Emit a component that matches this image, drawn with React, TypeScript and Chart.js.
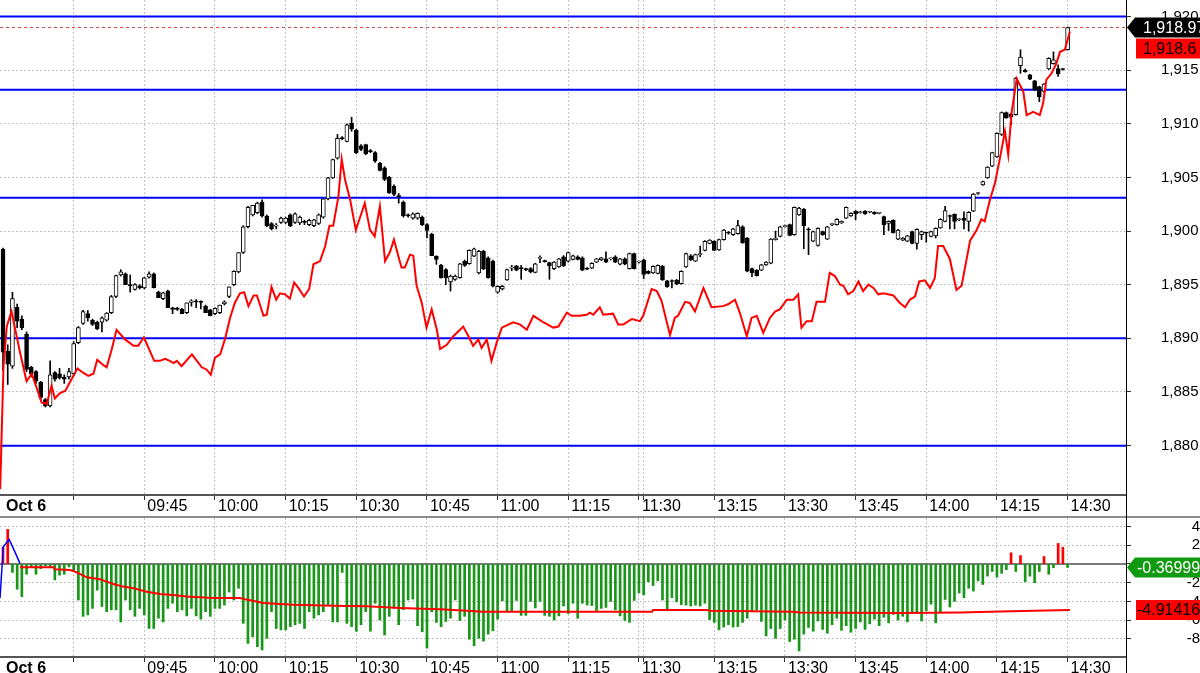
import React, { useEffect, useRef } from 'react';
import { Chart, registerables } from 'chart.js';

Chart.register(...registerables);

const FONT = '"Liberation Sans", Arial, Helvetica, sans-serif';

// ---- time axis: 1-minute bars, index 0 = 09:15, lunch break collapsed (135 = 11:30, 136 = 13:00)
const TICK_POS = [0, 15, 30, 45, 60, 75, 90, 105, 120, 135, 136, 151, 166, 181, 196, 211, 226];
const TICK_LABELS = ['Oct 6', '', '09:45', '10:00', '10:15', '10:30', '10:45', '11:00', '11:15', '11:30', '', '13:15', '13:30', '13:45', '14:00', '14:15', '14:30'];
const X_MIN = -0.64;
const X_MAX = 238.4;

// ---- price panel
const OPEN = [
  1898.3, 1888.8, 1887.4, 1892.9, 1891.8, 1890.4, 1887.3, 1886.9, 1885.9, 1884.3,
  1883.7, 1886.8, 1886.7, 1886.4, 1886.4, 1886.7, 1889.6, 1891.4, 1892.3, 1891.7,
  1891.5, 1891.5, 1891.7, 1892.4, 1893.9, 1895.9, 1896.0, 1895.0, 1894.55, 1894.9,
  1894.7, 1895.7, 1896.0, 1894.3, 1893.7, 1894.4, 1892.85, 1892.8, 1892.7, 1892.4,
  1893.35, 1893.5, 1893.4, 1893.0, 1892.65, 1892.3, 1892.4, 1893.2, 1893.9, 1895.0,
  1896.2, 1898.0, 1900.4, 1901.5, 1901.7, 1902.7, 1901.4, 1900.7, 1900.45, 1900.8,
  1900.8, 1901.5, 1900.8, 1900.75, 1900.85, 1900.6, 1900.5, 1900.7, 1901.3, 1903.0,
  1904.95, 1906.8, 1908.7, 1908.35, 1910.05, 1909.4, 1907.95, 1908.05, 1907.45, 1907.3,
  1906.3, 1905.9, 1905.0, 1904.2, 1903.3, 1902.7, 1901.5, 1901.2, 1901.2, 1901.3,
  1900.6, 1899.7, 1897.65, 1896.8, 1896.4, 1895.25, 1895.5, 1895.65, 1897.2, 1896.95,
  1897.65, 1896.1, 1898.1, 1897.5, 1897.2, 1894.3, 1894.6, 1895.45, 1896.55, 1896.75,
  1896.6, 1896.45, 1896.5, 1896.15, 1897.45, 1897.2, 1897.05, 1896.5, 1896.65, 1897.6,
  1897.2, 1897.35, 1897.6, 1897.5, 1896.5, 1896.55, 1897.1, 1897.3, 1897.4, 1897.4,
  1897.6, 1896.9, 1897.4, 1896.5, 1897.9, 1897.1, 1897.3, 1896.25, 1896.1, 1896.05,
  1896.7, 1895.35, 1895.35, 1895.4, 1895.1, 1896.65, 1897.7, 1897.2, 1897.8, 1898.2,
  1898.85, 1899.05, 1898.25, 1899.2, 1899.85, 1899.65, 1899.75, 1900.4, 1899.35, 1896.5,
  1896.35, 1896.35, 1896.85, 1897.0, 1899.2, 1899.5, 1900.4, 1900.6, 1899.65, 1901.5,
  1902.05, 1900.15, 1899.05, 1898.65, 1899.95, 1899.25, 1900.6, 1900.6, 1900.75, 1901.2,
  1901.4, 1901.85, 1901.7, 1901.85, 1901.75, 1901.75, 1901.65, 1901.35, 1900.7, 1901.0,
  1899.25, 1899.15, 1899.05, 1899.95, 1898.85, 1899.65, 1899.85, 1899.5, 1899.55, 1900.3,
  1900.9, 1901.4, 1901.55, 1901.05, 1901.2, 1900.9, 1901.85, 1903.5, 1904.3, 1904.95,
  1906.05, 1906.9, 1909.0, 1911.05, 1910.9, 1910.85, 1915.4, 1915.0, 1914.55, 1914.0,
  1913.45, 1913.0, 1915.1, 1915.6, 1915.15, 1915.1, 1916.9,
];
const HIGH = [
  1898.4, 1889.4, 1894.3, 1893.2, 1892.1, 1890.6, 1887.4, 1887.0, 1886.0, 1884.4,
  1887.9, 1886.9, 1887.2, 1886.6, 1887.2, 1889.7, 1891.1, 1892.6, 1892.6, 1891.8,
  1891.6, 1892.0, 1892.4, 1894.0, 1895.9, 1896.4, 1896.1, 1895.9, 1895.1, 1895.0,
  1895.7, 1896.2, 1896.1, 1894.4, 1894.3, 1894.5, 1892.9, 1892.9, 1892.8, 1893.3,
  1893.6, 1893.6, 1893.5, 1893.1, 1892.7, 1892.85, 1893.1, 1893.5, 1894.8, 1896.3,
  1898.0, 1900.5, 1902.3, 1902.4, 1902.7, 1902.9, 1901.5, 1900.8, 1900.7, 1901.3,
  1901.3, 1901.6, 1901.7, 1901.4, 1901.0, 1901.1, 1901.1, 1901.6, 1903.0, 1905.0,
  1906.7, 1909.0, 1908.8, 1910.0, 1910.6, 1909.5, 1908.05, 1908.1, 1907.6, 1907.4,
  1906.4, 1906.0, 1905.1, 1904.3, 1903.5, 1902.8, 1901.6, 1901.7, 1901.7, 1901.4,
  1900.7, 1899.8, 1897.7, 1896.9, 1896.5, 1895.9, 1895.9, 1897.0, 1897.3, 1898.25,
  1898.4, 1898.2, 1898.2, 1897.6, 1897.3, 1894.9, 1894.95, 1896.45, 1896.8, 1896.8,
  1896.8, 1896.55, 1896.6, 1897.0, 1897.7, 1897.3, 1897.1, 1897.15, 1897.45, 1897.7,
  1898.05, 1897.75, 1897.7, 1897.6, 1896.6, 1897.05, 1897.45, 1897.55, 1898.05, 1897.5,
  1897.7, 1897.45, 1897.5, 1897.95, 1897.95, 1897.2, 1897.4, 1896.3, 1896.75, 1896.85,
  1896.8, 1895.4, 1895.45, 1895.5, 1896.3, 1897.95, 1897.8, 1897.85, 1898.6, 1899.1,
  1899.2, 1899.1, 1899.25, 1900.15, 1899.95, 1900.25, 1901.0, 1900.5, 1899.4, 1896.55,
  1896.4, 1896.9, 1897.15, 1899.3, 1900.0, 1900.45, 1900.55, 1900.65, 1902.25, 1902.2,
  1902.1, 1900.3, 1900.0, 1900.3, 1900.0, 1900.45, 1900.7, 1901.15, 1900.95, 1902.25,
  1901.7, 1901.9, 1901.85, 1901.9, 1901.85, 1901.8, 1901.75, 1901.4, 1900.95, 1901.05,
  1900.15, 1899.4, 1899.6, 1900.0, 1900.2, 1900.0, 1899.9, 1900.0, 1900.3, 1901.15,
  1902.3, 1901.5, 1901.6, 1901.15, 1901.8, 1901.8, 1903.5, 1903.6, 1904.65, 1906.0,
  1907.35, 1909.15, 1911.1, 1911.1, 1911.0, 1914.3, 1916.9, 1915.1, 1914.6, 1914.05,
  1913.5, 1913.75, 1916.15, 1916.7, 1915.5, 1915.15, 1919.0,
];
const LOW = [
  1887.0, 1885.7, 1887.2, 1891.0, 1890.8, 1886.9, 1886.4, 1885.8, 1884.3, 1883.6,
  1883.6, 1886.0, 1886.2, 1885.8, 1886.2, 1886.5, 1889.5, 1891.3, 1891.6, 1891.2,
  1890.8, 1890.6, 1891.6, 1892.3, 1893.8, 1895.8, 1895.0, 1894.3, 1894.5, 1894.6,
  1894.6, 1895.6, 1894.7, 1893.8, 1893.6, 1892.85, 1892.3, 1892.6, 1892.3, 1892.3,
  1893.0, 1892.85, 1892.75, 1892.4, 1892.1, 1892.2, 1892.3, 1893.1, 1893.8, 1894.9,
  1896.1, 1897.9, 1900.3, 1901.4, 1901.6, 1901.3, 1900.4, 1900.1, 1900.2, 1900.7,
  1900.7, 1900.4, 1900.7, 1900.6, 1900.6, 1900.5, 1900.4, 1900.6, 1901.2, 1902.9,
  1904.9, 1906.7, 1908.5, 1908.3, 1909.3, 1907.2, 1907.5, 1907.1, 1907.3, 1906.4,
  1905.6, 1904.7, 1903.5, 1903.3, 1902.6, 1901.3, 1901.3, 1901.1, 1901.1, 1900.5,
  1899.35, 1897.7, 1896.9, 1895.6, 1895.0, 1894.4, 1895.4, 1895.6, 1896.7, 1896.9,
  1897.6, 1896.0, 1896.4, 1895.6, 1894.8, 1894.2, 1894.5, 1895.4, 1896.3, 1896.3,
  1895.5, 1896.3, 1896.1, 1896.1, 1897.05, 1897.1, 1895.5, 1896.4, 1896.6, 1896.7,
  1897.1, 1897.3, 1897.3, 1896.3, 1896.4, 1896.5, 1897.05, 1897.25, 1897.05, 1897.3,
  1897.05, 1896.85, 1896.85, 1896.45, 1896.45, 1897.0, 1895.55, 1896.0, 1896.05, 1896.0,
  1895.4, 1894.75, 1894.7, 1895.0, 1895.05, 1896.6, 1897.25, 1897.15, 1897.6, 1898.15,
  1898.8, 1898.2, 1898.2, 1899.15, 1899.7, 1899.6, 1899.7, 1898.85, 1896.2, 1895.75,
  1895.8, 1896.3, 1896.8, 1896.95, 1899.15, 1899.45, 1900.35, 1899.55, 1899.6, 1901.45,
  1898.35, 1897.8, 1899.0, 1898.6, 1899.6, 1899.2, 1900.5, 1900.55, 1900.7, 1901.15,
  1901.35, 1901.05, 1901.65, 1901.55, 1901.7, 1901.55, 1901.6, 1899.65, 1900.05, 1899.8,
  1899.2, 1899.1, 1899.0, 1898.8, 1898.3, 1899.2, 1898.95, 1899.45, 1899.35, 1900.25,
  1900.85, 1900.2, 1900.2, 1900.95, 1900.2, 1900.0, 1901.8, 1903.4, 1904.25, 1904.9,
  1906.0, 1906.85, 1908.9, 1910.5, 1909.9, 1910.8, 1914.7, 1914.8, 1914.1, 1913.1,
  1912.05, 1912.95, 1915.05, 1915.55, 1914.4, 1915.0, 1916.85,
];
const CLOSE = [
  1888.7, 1887.6, 1893.7, 1891.6, 1891.0, 1887.1, 1886.7, 1886.0, 1884.5, 1883.7,
  1886.6, 1886.2, 1886.3, 1886.2, 1886.9, 1889.5, 1891.0, 1892.5, 1891.9, 1891.3,
  1890.9, 1891.9, 1892.35, 1893.9, 1895.85, 1896.2, 1895.0, 1894.9, 1895.0, 1894.7,
  1895.65, 1896.0, 1894.7, 1893.8, 1894.25, 1892.85, 1892.7, 1892.7, 1892.3, 1893.3,
  1893.5, 1893.4, 1893.35, 1892.4, 1892.1, 1892.8, 1893.1, 1893.4, 1894.8, 1896.25,
  1898.0, 1900.4, 1902.2, 1902.4, 1902.6, 1901.4, 1900.5, 1900.2, 1900.45, 1901.2,
  1901.2, 1900.5, 1901.6, 1901.3, 1900.8, 1901.0, 1901.05, 1901.5, 1903.0, 1904.95,
  1906.65, 1908.65, 1908.6, 1909.9, 1909.5, 1907.3, 1907.6, 1907.2, 1907.4, 1906.5,
  1905.65, 1904.8, 1903.55, 1903.4, 1903.2, 1901.4, 1901.4, 1901.6, 1901.65, 1900.6,
  1900.05, 1897.7, 1897.35, 1895.65, 1895.65, 1895.8, 1895.8, 1896.95, 1896.8, 1898.2,
  1898.35, 1898.1, 1896.5, 1895.65, 1894.85, 1894.85, 1894.85, 1896.4, 1896.55, 1896.35,
  1896.5, 1896.4, 1896.2, 1896.95, 1897.5, 1897.15, 1896.75, 1897.1, 1897.4, 1896.75,
  1898.0, 1897.7, 1897.35, 1896.35, 1896.45, 1897.0, 1897.4, 1897.5, 1897.1, 1897.45,
  1897.1, 1897.4, 1896.9, 1897.9, 1896.5, 1897.1, 1895.95, 1896.05, 1896.7, 1896.8,
  1895.45, 1894.8, 1895.3, 1895.05, 1896.25, 1897.9, 1897.3, 1897.8, 1897.85, 1899.05,
  1899.15, 1898.2, 1899.2, 1900.1, 1899.8, 1900.2, 1900.5, 1898.9, 1896.25, 1896.1,
  1895.85, 1896.85, 1897.1, 1899.25, 1899.35, 1900.4, 1900.5, 1899.6, 1902.2, 1902.15,
  1900.5, 1900.1, 1899.95, 1900.25, 1899.65, 1900.4, 1900.6, 1901.1, 1900.9, 1902.2,
  1901.65, 1901.6, 1901.8, 1901.6, 1901.8, 1901.6, 1901.7, 1900.6, 1900.9, 1899.85,
  1900.1, 1899.35, 1899.55, 1898.85, 1900.15, 1899.95, 1899.8, 1899.95, 1900.25, 1901.1,
  1901.9, 1901.35, 1900.9, 1901.05, 1901.0, 1901.75, 1903.45, 1903.5, 1904.6, 1905.95,
  1907.3, 1909.1, 1911.05, 1910.55, 1910.6, 1914.25, 1916.2, 1914.85, 1914.15, 1913.15,
  1912.5, 1913.7, 1916.1, 1915.95, 1914.65, 1915.05, 1918.97,
];

// comparison line (minute position, value)
const LINE_T = [
  -0.6, 0.1, 0.8, 1.8, 2.9, 3.6, 5.0, 6.1, 7.2, 8.2,
  9.3, 10.3, 11.0, 12.1, 13.2, 14.2, 15.8, 17.0, 18.1, 19.2,
  20.0, 21.0, 22.0, 23.1, 24.1, 25.9, 27.7, 28.7, 29.9, 32.1,
  33.3, 34.4, 35.4, 36.2, 36.9, 37.9, 40.1, 42.2, 43.2, 44.1,
  45.0, 46.1, 47.1, 48.2, 49.2, 50.3, 51.2, 52.1, 53.2, 53.9,
  55.3, 56.0, 57.0, 58.0, 58.8, 59.9, 60.9, 61.8, 62.7, 63.9,
  65.0, 65.9, 67.3, 68.4, 69.3, 70.1, 71.2, 71.9, 72.6, 73.7,
  74.9, 76.8, 77.9, 78.9, 80.0, 81.1, 82.1, 83.0, 83.9, 84.6,
  85.3, 86.4, 87.1, 87.8, 88.9, 89.9, 91.0, 92.1, 92.8, 94.2,
  95.6, 97.7, 98.8, 99.8, 100.9, 101.6, 102.7, 103.7, 104.8, 105.9,
  108.3, 109.7, 111.2, 112.6, 114.7, 116.8, 117.9, 119.7, 120.7, 122.4,
  123.9, 124.6, 125.3, 126.7, 127.4, 129.5, 130.6, 131.7, 133.5, 135.2,
  135.9, 137.7, 138.8, 139.8, 141.6, 142.6, 143.3, 144.8, 145.8, 146.9,
  148.7, 150.4, 152.9, 154.0, 155.4, 156.4, 157.9, 158.9, 160.0, 161.4,
  162.8, 163.9, 164.9, 166.4, 167.8, 168.8, 169.5, 170.6, 171.7, 172.7,
  174.5, 175.5, 176.6, 177.7, 178.4, 179.4, 180.5, 181.6, 182.6, 183.7,
  184.8, 185.8, 186.9, 187.9, 189.0, 190.4, 191.5, 192.5, 193.6, 194.5,
  195.7, 196.8, 197.8, 198.5, 199.6, 201.0, 202.4, 203.5, 205.3, 206.7,
  207.7, 208.4, 209.5, 210.6, 211.6, 212.7, 213.4, 214.1, 215.2, 216.6,
  217.3, 218.7, 220.1, 220.8, 221.5, 222.6, 223.6, 224.4, 225.4, 226.5,
];
const LINE_V = [
  1875.95, 1887.4, 1891.1, 1892.5, 1890.2, 1888.7, 1886.0, 1886.7, 1885.3, 1884.0,
  1883.9, 1885.6, 1884.4, 1884.9, 1885.1, 1885.9, 1887.2, 1886.8, 1886.5, 1886.7,
  1888.0, 1887.6, 1887.3, 1889.0, 1890.8, 1889.9, 1889.3, 1889.3, 1890.1, 1887.9,
  1887.9, 1888.1, 1887.9, 1887.7, 1887.9, 1887.4, 1888.5, 1887.3, 1887.1, 1886.6,
  1888.2, 1888.5, 1889.9, 1891.9, 1893.3, 1894.2, 1894.3, 1893.0, 1894.0, 1894.0,
  1892.1, 1892.2, 1894.8, 1893.6, 1894.2, 1894.1, 1893.7, 1895.2, 1894.7, 1893.9,
  1894.6, 1896.9, 1897.2, 1898.6, 1900.5, 1900.5, 1903.2, 1906.7, 1904.8, 1902.9,
  1900.1, 1902.6, 1900.1, 1899.5, 1902.3, 1897.2, 1898.0, 1899.2, 1897.7, 1896.6,
  1896.6, 1897.8, 1897.7, 1894.9, 1893.3, 1891.0, 1892.7, 1890.8, 1889.0, 1889.4,
  1890.2, 1891.1, 1890.2, 1889.3, 1889.9, 1889.1, 1889.9, 1887.9, 1889.6, 1891.0,
  1891.5, 1891.3, 1890.8, 1892.1, 1891.5, 1891.0, 1891.1, 1892.4, 1892.1, 1892.1,
  1892.2, 1892.4, 1892.2, 1892.9, 1892.2, 1892.3, 1891.3, 1891.3, 1891.8, 1891.6,
  1892.1, 1894.6, 1894.4, 1893.5, 1890.3, 1891.9, 1892.1, 1893.4, 1893.3, 1892.5,
  1894.7, 1892.9, 1893.0, 1893.2, 1893.6, 1892.4, 1890.2, 1891.9, 1892.1, 1890.5,
  1891.9, 1892.5, 1892.7, 1893.6, 1893.6, 1894.1, 1891.0, 1891.6, 1891.6, 1893.4,
  1893.4, 1896.1, 1895.8, 1895.0, 1894.9, 1894.1, 1894.4, 1895.3, 1894.4, 1895.0,
  1894.7, 1894.1, 1894.2, 1894.1, 1894.0, 1893.3, 1892.9, 1893.6, 1893.9, 1895.3,
  1895.4, 1894.7, 1895.6, 1898.6, 1898.6, 1897.4, 1894.5, 1894.9, 1899.1, 1900.1,
  1901.1, 1900.9, 1902.9, 1904.5, 1906.7, 1909.3, 1907.1, 1911.0, 1914.2, 1913.0,
  1910.8, 1911.1, 1910.8, 1911.9, 1914.1, 1914.7, 1915.6, 1916.7, 1916.9, 1918.6,
];

const LEVELS = [1920, 1913.16, 1903.1, 1890, 1880];
const PRICE_TICKS = [1880, 1885, 1890, 1895, 1900, 1905, 1910, 1915, 1920];
const PRICE_MIN = 1875.4;
const PRICE_MAX = 1921.53;

// ---- oscillator panel
const HIST = [
  1.8, 3.7, -0.9, -2.7, -3.5, -1.1, -0.3, -1.1, -0.5, -0.2,
  -0.4, -1.7, -1.2, -1.1, -0.3, -0.7, -3.85, -5.6, -5.45, -4.75,
  -2.8, -4.55, -5.1, -4.9, -4.9, -6.2, -3.85, -4.9, -5.6, -4.75,
  -5.45, -6.9, -6.9, -5.8, -6.2, -4.75, -4.2, -5.1, -4.9, -5.55,
  -4.75, -5.55, -5.9, -5.1, -5.6, -4.75, -4.75, -4.4, -3.0, -3.85,
  -2.6, -6.35, -8.5, -7.8, -8.85, -9.2, -7.95, -5.1, -6.9, -7.05,
  -7.05, -6.7, -6.5, -6.35, -6.9, -5.1, -5.8, -5.45, -5.1, -4.4,
  -6.2, -6.2, -0.9, -6.35, -6.7, -7.2, -6.5, -5.1, -7.2, -4.2,
  -6.0, -7.6, -5.6, -4.75, -6.5, -4.9, -3.85, -3.75, -6.6, -7.25,
  -9.0, -5.1, -6.25, -6.7, -6.15, -5.8, -3.85, -6.05, -5.6, -8.05,
  -8.75, -7.95, -8.25, -7.5, -7.15, -5.9, -3.95, -5.0, -5.0, -3.9,
  -5.5, -5.5, -4.0, -4.7, -4.0, -5.5, -5.6, -6.0, -5.55, -4.5,
  -5.3, -4.2, -5.8, -4.2, -4.4, -4.45, -5.0, -4.75, -4.65, -4.0,
  -4.9, -5.55, -6.05, -6.25, -3.9, -3.1, -3.3, -1.9, -2.3, -1.8,
  -3.85, -5.0, -3.6, -4.05, -4.35, -4.4, -4.5, -4.4, -4.5, -4.2,
  -5.95, -6.25, -7.05, -6.75, -6.5, -6.75, -6.7, -6.25, -5.8, -5.1,
  -4.9, -6.15, -7.7, -6.9, -7.95, -6.9, -6.0, -8.3, -8.05, -9.3,
  -7.5, -6.8, -7.2, -6.1, -7.0, -7.4, -6.5, -5.8, -7.1, -6.6,
  -7.3, -6.9, -6.2, -7.0, -6.4, -5.9, -6.6, -5.7, -6.3, -5.4,
  -6.0, -5.6, -6.2, -5.1, -5.3, -6.1, -5.0, -4.3, -6.3, -5.2,
  -3.8, -4.6, -4.0, -3.1, -3.6, -2.6, -2.9, -1.8, -2.2, -1.3,
  -0.8, -1.4, -1.0, -0.6, 1.2, -0.8, 0.9, -1.9, -1.3, -2.0,
  -0.8, 0.8, -1.1, -0.4, 2.2, 1.8, -0.36999,
];
const SIG_T = [3.6, 10.7, 11.0, 14.2, 15.3, 17.8, 20.6, 22.0, 23.4, 25.5, 27.7, 30.5, 33.3, 36.1, 39.0, 41.8, 44.6, 50.3, 51.7, 55.3, 61.6, 70.1, 77.2, 84.3, 92.8, 98.5, 101.9, 137.8, 138.0, 149.4, 150.1, 167.7, 169.2, 190.4, 203.1, 214.0, 226.5];
const SIG_V = [-0.36, -0.36, -0.57, -0.64, -0.82, -1.43, -1.64, -1.89, -2.14, -2.42, -2.6, -2.96, -3.21, -3.32, -3.49, -3.56, -3.64, -3.64, -3.81, -4.17, -4.35, -4.46, -4.53, -4.7, -4.85, -4.99, -5.1, -5.1, -4.92, -4.92, -5.0, -5.1, -5.2, -5.25, -5.2, -5.05, -4.91416];
const MACD_T = [-0.64, 0.06, 1.3, 2.5, 3.6];
const MACD_V = [-3.67, 1.85, 2.64, 1.32, 0.07];
const OSC_TICKS = [-8, -6, -4, -2, 0, 2, 4];
const OSC_MIN = -9.95;
const OSC_MAX = 4.92;

const fmtPrice = (v: number) => v.toLocaleString('en-US', { maximumFractionDigits: 2 });

const panelDeco = {
  id: 'panelDeco',
  afterDraw(chart: any, _args: any, opts: any) {
    const { ctx, chartArea, width, height } = chart;
    const yS = chart.scales.y;
    ctx.save();
    if (opts.topLine) {
      ctx.fillStyle = '#8c8c8c';
      ctx.fillRect(0, 0, width, 2);
    }
    ctx.fillStyle = '#000';
    ctx.fillRect(Math.round(chartArea.right), 0, 1, height);
    ctx.font = `16px ${FONT}`;
    ctx.textBaseline = 'middle';
    ctx.textAlign = 'left';
    let prevBottom = -1e9;
    for (const t of opts.tags || []) {
      const h = 20;
      let top = yS.getPixelForValue(t.value) - h / 2;
      if (top < prevBottom + 1) top = prevBottom + 1;
      const bx = chartArea.right + (t.arrow ? 9 : 10);
      ctx.fillStyle = t.bg;
      ctx.beginPath();
      if (t.arrow) {
        ctx.moveTo(chartArea.right + 1, top + h / 2);
        ctx.lineTo(bx, top);
        ctx.lineTo(width, top);
        ctx.lineTo(width, top + h);
        ctx.lineTo(bx, top + h);
        ctx.closePath();
      } else {
        ctx.rect(bx, top, width - bx, h);
      }
      ctx.fill();
      ctx.fillStyle = t.fg;
      ctx.fillText(t.text, chartArea.right + opts.textDx, top + h / 2 + 1);
      prevBottom = top + h;
    }
    ctx.restore();
  },
};

function timeAxis(height: number) {
  return {
    type: 'linear',
    min: X_MIN,
    max: X_MAX,
    offset: false,
    afterBuildTicks: (s: any) => {
      s.ticks = TICK_POS.map((v) => ({ value: v }));
    },
    afterFit: (s: any) => {
      s.height = height;
      s.paddingLeft = 0;
      s.paddingRight = 0;
    },
    ticks: {
      autoSkip: false,
      maxRotation: 0,
      minRotation: 0,
      align: 'start',
      labelOffset: 3,
      padding: -3,
      color: '#000',
      font: (c: any) => ({ family: FONT, size: 16, weight: c.index === 0 ? 'bold' : 'normal' }),
      callback: (_v: any, i: number) => TICK_LABELS[i],
    },
    grid: {
      color: (c: any) => (c.index === 0 ? 'rgba(0,0,0,0)' : '#c4c4c4'),
      lineWidth: 1,
      offset: false,
      drawTicks: true,
      tickLength: 5,
      tickColor: (c: any) => (c.index === 0 ? 'rgba(0,0,0,0)' : '#333'),
      tickWidth: 1,
      tickBorderDash: [],
    },
    border: { display: true, color: '#555', width: 2, dash: [2, 2] },
  };
}

const flat = (v: number) => [{ x: X_MIN, y: v }, { x: X_MAX, y: v }];

function topConfig(): any {
  const last = CLOSE[CLOSE.length - 1];
  const lastLine = LINE_V[LINE_V.length - 1];
  return {
    type: 'bar',
    data: {
      datasets: [
        {
          type: 'line',
          label: 'Index',
          data: LINE_T.map((t, i) => ({ x: t, y: LINE_V[i] })),
          borderColor: '#ff0000',
          borderWidth: 2,
          pointRadius: 0,
          tension: 0,
          fill: false,
          order: 0,
        },
        {
          type: 'bar',
          label: 'Body',
          data: OPEN.map((o, i) => ({ x: i, y: [o, CLOSE[i]] })),
          backgroundColor: (c: any) => (CLOSE[c.dataIndex] >= OPEN[c.dataIndex] ? '#ffffff' : '#000000'),
          borderColor: '#000',
          borderWidth: 1,
          borderSkipped: false,
          barThickness: 4,
          minBarLength: 1,
          grouped: false,
          order: 1,
        },
        {
          type: 'bar',
          label: 'Wick',
          data: LOW.map((l, i) => ({ x: i, y: [l, HIGH[i]] })),
          backgroundColor: '#000',
          borderWidth: 0,
          barThickness: 1,
          grouped: false,
          order: 2,
        },
        {
          type: 'line',
          label: 'Last',
          data: flat(last),
          borderColor: 'rgba(215,40,40,0.85)',
          borderWidth: 1,
          borderDash: [3, 3],
          pointRadius: 0,
          order: 3,
        },
        ...LEVELS.map((v) => ({
          type: 'line',
          label: 'Level',
          data: flat(v),
          borderColor: '#0000ff',
          borderWidth: 2,
          pointRadius: 0,
          order: 4,
        })),
      ],
    },
    options: {
      responsive: false,
      maintainAspectRatio: false,
      animation: false,
      devicePixelRatio: 1,
      events: [],
      layout: { padding: 0 },
      scales: {
        x: timeAxis(21),
        y: {
          type: 'linear',
          position: 'right',
          min: PRICE_MIN,
          max: PRICE_MAX,
          afterBuildTicks: (s: any) => {
            s.ticks = PRICE_TICKS.map((v) => ({ value: v }));
          },
          afterFit: (s: any) => {
            s.width = 74;
            s.paddingTop = 0;
            s.paddingBottom = 0;
          },
          ticks: {
            crossAlign: 'near',
            padding: 30,
            color: '#000',
            font: { family: FONT, size: 15 },
            callback: (v: number) => fmtPrice(v),
          },
          grid: { color: '#c4c4c4', lineWidth: 1, drawTicks: true, tickLength: 5, tickColor: '#333', tickBorderDash: [] },
          border: { display: true, color: '#000', width: 1, dash: [2, 2] },
        },
      },
      plugins: {
        legend: { display: false },
        tooltip: { enabled: false },
        panelDeco: {
          textDx: 17,
          tags: [
            { value: last, text: fmtPrice(last), bg: '#000', fg: '#fff', arrow: true },
            { value: lastLine, text: fmtPrice(lastLine), bg: '#ff0000', fg: '#000', arrow: false },
          ],
        },
      },
    },
    plugins: [panelDeco],
  };
}

function bottomConfig(): any {
  return {
    type: 'bar',
    data: {
      datasets: [
        {
          type: 'line',
          label: 'Signal',
          data: SIG_T.map((t, i) => ({ x: t, y: SIG_V[i] })),
          borderColor: '#ff0000',
          borderWidth: 2,
          pointRadius: 0,
          tension: 0,
          order: 0,
        },
        {
          type: 'line',
          label: 'MACD',
          data: MACD_T.map((t, i) => ({ x: t, y: MACD_V[i] })),
          borderColor: '#0000ff',
          borderWidth: 1.5,
          pointRadius: 0,
          tension: 0,
          order: 1,
        },
        {
          type: 'bar',
          label: 'Histogram',
          data: HIST.map((v, i) => ({ x: i, y: v })),
          backgroundColor: (c: any) => (HIST[c.dataIndex] >= 0 ? '#ff0000' : '#179617'),
          borderWidth: 0,
          barThickness: 2,
          grouped: false,
          order: 2,
        },
        {
          type: 'line',
          label: 'Zero',
          data: flat(0),
          borderColor: '#7a7a7a',
          borderWidth: 2,
          pointRadius: 0,
          order: 3,
        },
      ],
    },
    options: {
      responsive: false,
      maintainAspectRatio: false,
      animation: false,
      devicePixelRatio: 1,
      events: [],
      layout: { padding: { top: 2, left: 0, right: 0, bottom: 0 } },
      scales: {
        x: timeAxis(16),
        y: {
          type: 'linear',
          position: 'right',
          min: OSC_MIN,
          max: OSC_MAX,
          afterBuildTicks: (s: any) => {
            s.ticks = OSC_TICKS.map((v) => ({ value: v }));
          },
          afterFit: (s: any) => {
            s.width = 74;
            s.paddingTop = 0;
            s.paddingBottom = 0;
          },
          ticks: {
            crossAlign: 'far',
            padding: 55,
            color: '#000',
            font: { family: FONT, size: 15 },
            callback: (v: number) => String(v),
          },
          grid: {
            color: (c: any) => (c.tick && c.tick.value === 0 ? 'rgba(0,0,0,0)' : '#c4c4c4'),
            lineWidth: 1,
            drawTicks: true,
            tickLength: 5,
            tickColor: '#333',
            tickBorderDash: [],
          },
          border: { display: true, color: '#000', width: 1, dash: [2, 2] },
        },
      },
      plugins: {
        legend: { display: false },
        tooltip: { enabled: false },
        panelDeco: {
          topLine: true,
          textDx: 11,
          tags: [
            { value: HIST[HIST.length - 1], text: String(HIST[HIST.length - 1]), bg: '#109a10', fg: '#fff', arrow: true },
            { value: SIG_V[SIG_V.length - 1], text: String(SIG_V[SIG_V.length - 1]), bg: '#ff0000', fg: '#000', arrow: false },
          ],
        },
      },
    },
    plugins: [panelDeco],
  };
}

export default function App() {
  const topRef = useRef<HTMLCanvasElement>(null);
  const botRef = useRef<HTMLCanvasElement>(null);

  useEffect(() => {
    const c1 = new Chart(topRef.current as HTMLCanvasElement, topConfig());
    const c2 = new Chart(botRef.current as HTMLCanvasElement, bottomConfig());
    return () => {
      c1.destroy();
      c2.destroy();
    };
  }, []);

  return (
    <div style={{ position: 'absolute', left: 0, top: 0, width: 1200, height: 673, overflow: 'hidden', background: '#fff' }}>
      <canvas ref={topRef} width={1200} height={516} style={{ position: 'absolute', left: 0, top: 0, display: 'block' }} />
      <canvas ref={botRef} width={1200} height={157} style={{ position: 'absolute', left: 0, top: 516, display: 'block' }} />
    </div>
  );
}
